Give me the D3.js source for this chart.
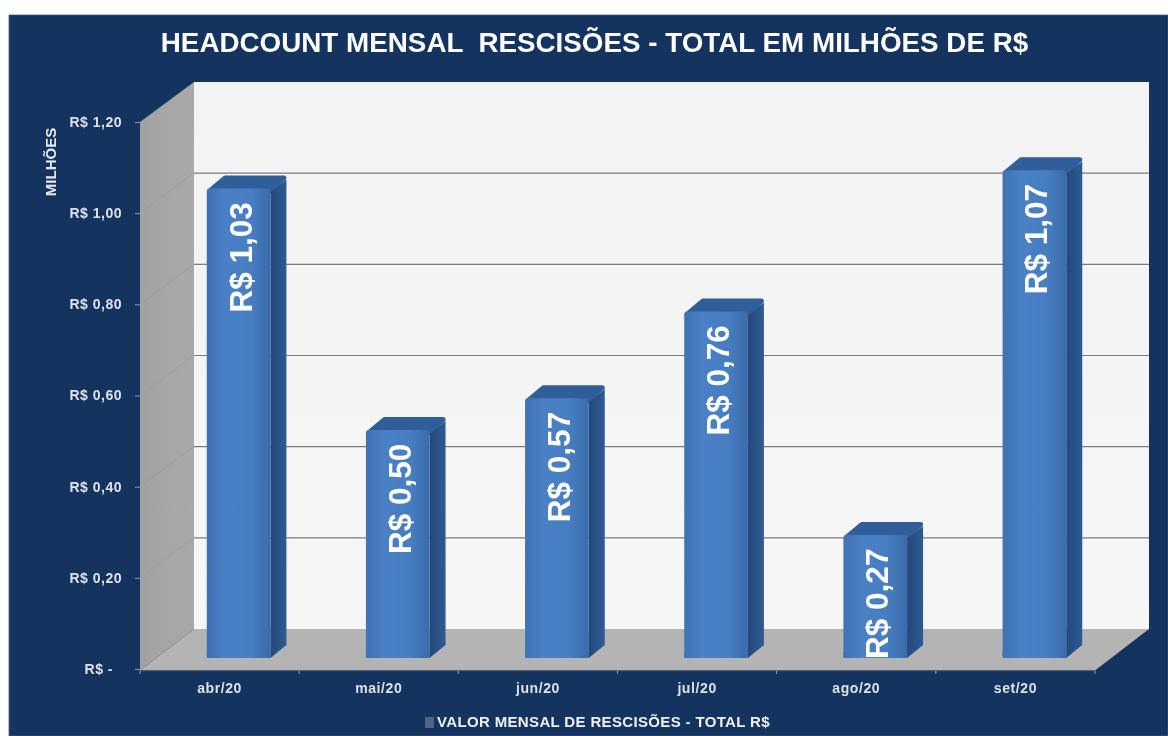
<!DOCTYPE html>
<html>
<head>
<meta charset="utf-8">
<script src="https://cdn.jsdelivr.net/npm/d3@7"></script>
<style>
  html, body { margin: 0; padding: 0; background: #fff; }
  svg { display: block; filter: blur(0.45px); }
  text { font-family: "Liberation Sans", Arial, sans-serif; font-weight: bold; }
</style>
</head>
<body>
<div id="chart"></div>
<script>
// Chart data
const months = ['abr/20', 'mai/20', 'jun/20', 'jul/20', 'ago/20', 'set/20'];
const rescisoes = [1.03, 0.50, 0.57, 0.76, 0.27, 1.07];
const yTicks = [0, 0.2, 0.4, 0.6, 0.8, 1.0, 1.2];
const titleText = 'HEADCOUNT MENSAL  RESCISÕES - TOTAL EM MILHÕES DE R$';
const legendText = 'VALOR MENSAL DE RESCISÕES - TOTAL R$';
const yTitle = 'MILHÕES';

const W = 1168, H = 736;
const plot = { left: 140, right: 1095, top: 122, bottom: 669 };
// 3D offsets: back wall relative to the front plane, bars relative to floor edge
const wall = { dx: 54, dy: -40 };
const barOffset = { dx: 19, dy: -11 };
const barDepth = { dx: 16, dy: -13 };

const ptBR = d3.formatLocale({ decimal: ',', thousands: '.', grouping: [3], currency: ['R$ ', ''] });
const money = v => v === 0 ? 'R$ -' : 'R$ ' + ptBR.format('.2f')(v);

const x = d3.scaleBand().domain(months).range([plot.left, plot.right]).paddingInner(0.6).paddingOuter(0.3);
const xTickScale = d3.scaleBand().domain(months).range([plot.left, plot.right]);
const y = d3.scaleLinear().domain([0, 1.2]).range([plot.bottom, plot.top]);

const svg = d3.select('#chart').append('svg').attr('width', W).attr('height', H);
const defs = svg.append('defs');

const frontGrad = defs.append('linearGradient').attr('id', 'barFront');
frontGrad.append('stop').attr('offset', '0%').attr('stop-color', '#3f72b3');
frontGrad.append('stop').attr('offset', '30%').attr('stop-color', '#4a80c5');
frontGrad.append('stop').attr('offset', '70%').attr('stop-color', '#477dc1');
frontGrad.append('stop').attr('offset', '100%').attr('stop-color', '#3a6cab');

const sideGrad = defs.append('linearGradient').attr('id', 'barSide');
sideGrad.append('stop').attr('offset', '0%').attr('stop-color', '#24487a');
sideGrad.append('stop').attr('offset', '100%').attr('stop-color', '#2e5b94');

const leftGrad = defs.append('linearGradient').attr('id', 'leftWall');
leftGrad.append('stop').attr('offset', '0%').attr('stop-color', '#a2a2a2');
leftGrad.append('stop').attr('offset', '100%').attr('stop-color', '#a9a9a9');

const backGrad = defs.append('linearGradient').attr('id', 'backWall').attr('x2', 0).attr('y2', 1);
backGrad.append('stop').attr('offset', '0%').attr('stop-color', '#f3f3f3');
backGrad.append('stop').attr('offset', '100%').attr('stop-color', '#f6f6f6');

// Background panel
svg.append('rect')
  .attr('x', 9).attr('y', 15).attr('width', W - 9).attr('height', H - 15)
  .attr('fill', '#14335e').attr('stroke', '#4a5d78').attr('stroke-width', 0.8);

const poly = pts => 'M' + pts.map(p => p.join(',')).join('L') + 'Z';

// Walls and floor
const backLeft = plot.left + wall.dx, backRight = plot.right + wall.dx;
const backTop = plot.top + wall.dy, backBottom = plot.bottom + wall.dy;

svg.append('rect')
  .attr('x', backLeft).attr('y', backTop)
  .attr('width', backRight - backLeft).attr('height', backBottom - backTop)
  .attr('fill', 'url(#backWall)');

svg.append('path')
  .attr('d', poly([[plot.left, plot.top], [backLeft, backTop], [backLeft, backBottom], [plot.left, plot.bottom + 1.5]]))
  .attr('fill', 'url(#leftWall)');

svg.append('path')
  .attr('d', poly([[plot.left, plot.bottom + 1.5], [backLeft, backBottom], [backRight, backBottom], [plot.right, plot.bottom + 1.5]]))
  .attr('fill', '#b4b4b4');

// Gridlines
const gridTicks = yTicks.slice(1, -1);
svg.append('g').selectAll('line').data(gridTicks).join('line')
  .attr('x1', backLeft).attr('x2', backRight)
  .attr('y1', d => y(d) + wall.dy).attr('y2', d => y(d) + wall.dy)
  .attr('stroke', '#7c7c7c').attr('stroke-width', 1.2);

svg.append('g').selectAll('line').data(gridTicks).join('line')
  .attr('x1', plot.left).attr('x2', backLeft)
  .attr('y1', d => y(d)).attr('y2', d => y(d) + wall.dy)
  .attr('stroke', '#9c9c9c').attr('stroke-width', 0.8);

// Axes
const yAxis = svg.append('g')
  .attr('transform', `translate(${plot.left},0)`)
  .call(d3.axisLeft(y).tickValues(yTicks).tickFormat(money).tickSize(5).tickPadding(13));
const xAxis = svg.append('g')
  .attr('transform', `translate(0,${plot.bottom + 1.5})`)
  .call(d3.axisBottom(xTickScale).tickSize(0).tickPadding(13));

yAxis.select('.domain').remove();
xAxis.select('.domain').attr('stroke', '#33455f').attr('stroke-width', 1);
yAxis.selectAll('line').attr('stroke', '#8d99aa');
yAxis.selectAll('text')
  .attr('fill', '#dde3ea').attr('font-size', 14).attr('letter-spacing', 0.5)
  .attr('font-family', '"Liberation Sans", Arial, sans-serif')
  .attr('dx', d => d === 0 ? -9 : 0);
xAxis.selectAll('text')
  .attr('fill', '#dde3ea').attr('font-size', 14).attr('letter-spacing', 0.6)
  .attr('font-family', '"Liberation Sans", Arial, sans-serif');

// Tick marks sit on band edges, not band centres
svg.append('g').selectAll('line').data(d3.range(months.length + 1)).join('line')
  .attr('x1', i => plot.left + i * xTickScale.step()).attr('x2', i => plot.left + i * xTickScale.step())
  .attr('y1', plot.bottom + 1.5).attr('y2', plot.bottom + 5)
  .attr('stroke', '#8d99aa');

// Bars
const bars = svg.append('g').selectAll('g').data(months.map((m, i) => ({ m, v: rescisoes[i], i }))).join('g');
const fx = d => x(d.m) + barOffset.dx;
const fy = d => y(d.v) + barOffset.dy;
const fb = () => plot.bottom + barOffset.dy;
const bw = x.bandwidth();
const r = 2.5; // half stroke, gives the bevelled look on top and side

bars.append('path')
  .attr('d', d => poly([
    [fx(d) + 3, fy(d) + r], [fx(d) + barDepth.dx + r, fy(d) + barDepth.dy + r],
    [fx(d) + bw + barDepth.dx - r, fy(d) + barDepth.dy + r], [fx(d) + bw, fy(d) + r]
  ]))
  .attr('fill', '#2f5e9b').attr('stroke', '#2f5e9b').attr('stroke-width', r * 2).attr('stroke-linejoin', 'round');

bars.append('path')
  .attr('d', d => poly([
    [fx(d) + bw, fy(d) + 4], [fx(d) + bw + barDepth.dx, fy(d) + barDepth.dy + 4],
    [fx(d) + bw + barDepth.dx, fb() + barDepth.dy], [fx(d) + bw, fb()]
  ]))
  .attr('fill', 'url(#barSide)');

bars.append('rect')
  .attr('x', fx).attr('y', fy)
  .attr('width', bw).attr('height', d => fb() - fy(d))
  .attr('rx', 3)
  .attr('fill', 'url(#barFront)');
bars.append('rect')
  .attr('x', fx).attr('y', d => fb() - 6)
  .attr('width', bw).attr('height', 6)
  .attr('fill', 'url(#barFront)');

// Value labels, rotated and clipped by the bar's front face
bars.each(function(d) {
  defs.append('clipPath').attr('id', 'clip' + d.i)
    .append('rect').attr('x', fx(d)).attr('y', fy(d)).attr('width', bw).attr('height', fb() - fy(d));
});
bars.append('g')
  .attr('clip-path', d => `url(#clip${d.i})`)
  .append('text')
  .attr('transform', d => `translate(${fx(d) + bw / 2 + 13},${fy(d) + 124}) rotate(-90)`)
  .attr('fill', '#fff')
  .attr('font-size', 31.5)
  .text(d => money(d.v));

// Title
svg.append('text')
  .attr('x', 594.5).attr('y', 52)
  .attr('text-anchor', 'middle')
  .attr('fill', '#fff')
  .attr('font-size', 27.8)
  .style('white-space', 'pre')
  .text(titleText);

// Y axis title
svg.append('text')
  .attr('transform', 'translate(56,162) rotate(-90)')
  .attr('text-anchor', 'middle')
  .attr('fill', '#e6e9ee')
  .attr('font-size', 15)
  .text(yTitle);

// Legend
svg.append('rect')
  .attr('x', 425).attr('y', 717).attr('width', 9).attr('height', 11)
  .attr('fill', '#4e6788');
svg.append('text')
  .attr('x', 437).attr('y', 727)
  .attr('fill', '#eef1f5')
  .attr('font-size', 15)
  .attr('letter-spacing', 0.35)
  .text(legendText);
</script>
</body>
</html>
